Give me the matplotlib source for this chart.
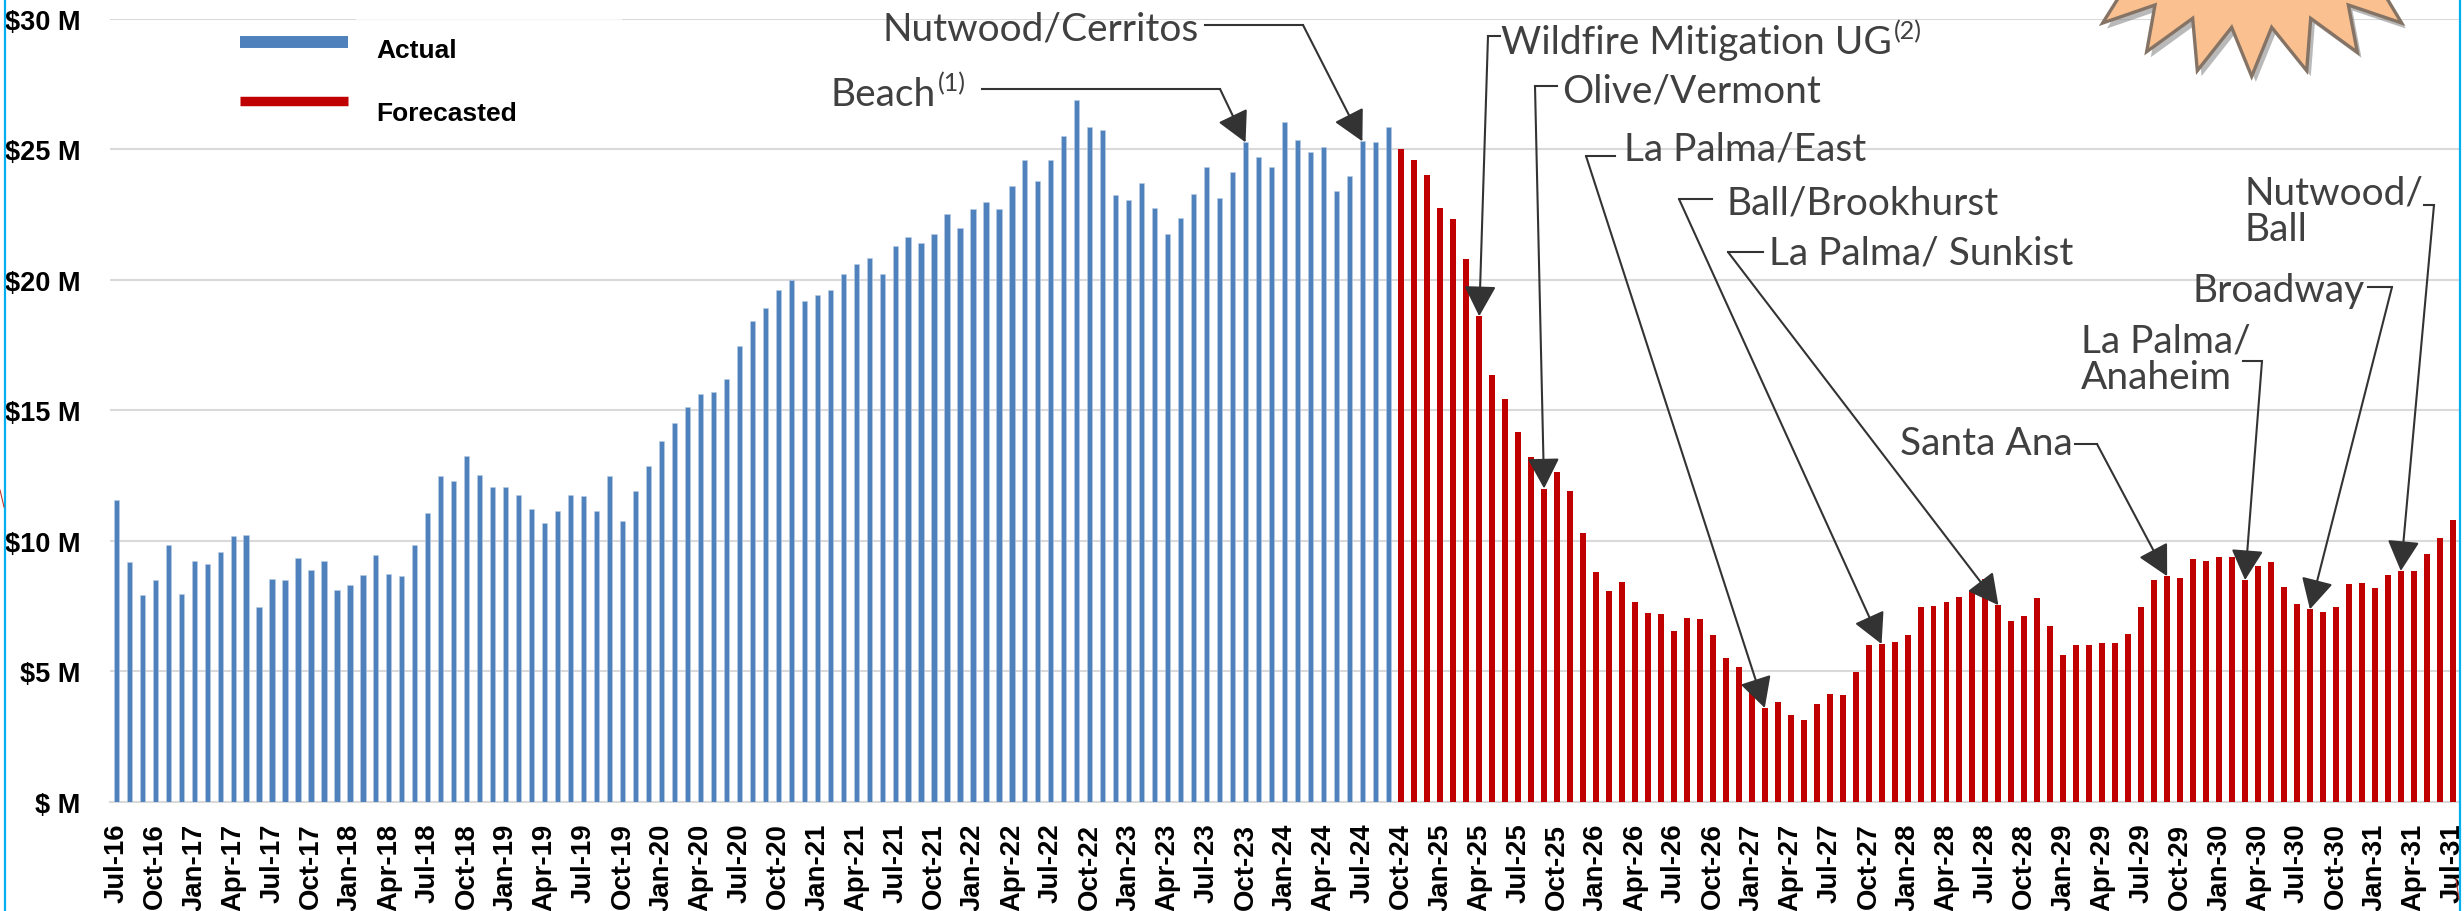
import matplotlib
matplotlib.use("Agg")
import matplotlib.pyplot as plt
import matplotlib.patheffects as pe
from matplotlib.legend_handler import HandlerLine2D
from matplotlib.lines import Line2D
from matplotlib.patches import Polygon, Rectangle
import pandas as pd

months = list(pd.date_range("2016-07-01", "2031-07-01", freq="MS").strftime("%b-%y"))

actual = [11.56, 9.18, 7.91, 8.49, 9.82, 7.97, 9.24, 9.11, 9.58, 10.18, 10.22, 7.46,
          8.55, 8.49, 9.33, 8.86, 9.22, 8.11, 8.31, 8.69, 9.44, 8.71, 8.64, 9.82,
          11.05, 12.47, 12.27, 13.23, 12.52, 12.07, 12.05, 11.74, 11.22, 10.69, 11.14, 11.76,
          11.71, 11.14, 12.47, 10.76, 11.89, 12.87, 13.83, 14.52, 15.12, 15.63, 15.68, 16.19,
          17.46, 18.42, 18.93, 19.6, 20.0, 19.18, 19.42, 19.62, 20.22, 20.6, 20.82, 20.2,
          21.29, 21.63, 21.42, 21.74, 22.52, 22.0, 22.7, 22.96, 22.7, 23.6, 24.6, 23.8,
          24.57, 25.52, 26.9, 25.84, 25.75, 23.23, 23.07, 23.7, 22.76, 21.74, 22.38, 23.27,
          24.3, 23.12, 24.14, 25.26, 24.72, 24.3, 26.04, 25.37, 24.88, 25.08, 23.39, 23.99,
          25.3, 25.26, 25.84]
forecast = [24.99, 24.6, 24.03, 22.74, 22.32, 20.78, 18.6, 16.35, 15.41,
            14.16, 13.21, 12.0, 12.65, 11.89, 10.29, 8.8, 8.06, 8.42, 7.64, 7.22, 7.19,
            6.53, 7.04, 6.99, 6.39, 5.5, 5.17, 4.23, 3.59, 3.81, 3.32, 3.12, 3.74,
            4.12, 4.08, 4.97, 5.99, 6.04, 6.1, 6.39, 7.46, 7.48, 7.64, 7.84, 8.06,
            8.53, 7.53, 6.93, 7.1, 7.8, 6.73, 5.61, 5.99, 5.99, 6.08, 6.08, 6.41,
            7.46, 8.49, 8.64, 8.57, 9.29, 9.22, 9.38, 9.38, 8.49, 9.02, 9.18, 8.22,
            7.57, 7.37, 7.26, 7.46, 8.33, 8.37, 8.17, 8.69, 8.84, 8.84, 9.49, 10.09,
            10.78]
y_ticks = [0, 5, 10, 15, 20, 25, 30]
y_tick_labels = ["$ M", "$5 M", "$10 M", "$15 M", "$20 M", "$25 M", "$30 M"]

W, H = 2464, 912
BOLD = "Liberation Sans"
CALLOUT = "Lato"
DARK = "#333333"
TXT = "#404040"


def fx(px):
    return px / W


def fy(py):
    return 1 - py / H


fig = plt.figure(figsize=(W / 100, H / 100), dpi=100, facecolor="white")
ax = fig.add_axes([fx(109.8), fy(802.7), (2459.2 - 109.8) / W, (802.7 - 19.7) / H])

x_actual = range(len(actual))
x_forecast = range(len(actual), len(actual) + len(forecast))
ax.bar(x_actual, actual, width=0.40, color="#4F81BD", edgecolor="#B9CDE5", linewidth=0.4, zorder=3)
ax.bar(x_forecast, forecast, width=0.46, color="#C00000", zorder=3)

ax.set_xlim(-0.5, 180.5)
ax.set_ylim(0, 30)
ax.set_yticks(y_ticks, y_tick_labels, family=BOLD, weight="bold", fontsize=19.5, color="black")
ax.set_xticks(range(0, len(months), 3), months[::3], rotation=90, family=BOLD, weight="bold",
              fontsize=19.8, color="black")
ax.tick_params(axis="y", length=0, pad=21)
ax.tick_params(axis="x", length=0, pad=15)
ax.grid(axis="y", color="#D9D9D9", linewidth=1.5, zorder=0)
ax.set_axisbelow(True)
for s in ("left", "right", "top"):
    ax.spines[s].set_visible(False)
ax.spines["bottom"].set_color("#D9D9D9")
ax.spines["bottom"].set_linewidth(1.5)
ax.patch.set_alpha(0)


class ShiftedLine(HandlerLine2D):
    def __init__(self, shift, **kw):
        super().__init__(marker_pad=0, **kw)
        self.shift = shift

    def create_artists(self, *args, **kw):
        arts = super().create_artists(*args, **kw)
        for a in arts:
            a.set_ydata(a.get_ydata() + self.shift)
        return arts


h_actual = Line2D([], [], color="#4F81BD", lw=8.6, solid_capstyle="butt")
h_fore = Line2D([], [], color="#C00000", lw=6.8, solid_capstyle="butt")
leg = ax.legend([h_actual, h_fore], ["Actual", "Forecasted"], loc="upper left",
                bbox_to_anchor=(fx(240), fy(39)), bbox_transform=fig.transFigure,
                frameon=False, borderpad=0, borderaxespad=0, handlelength=4.1,
                handletextpad=1.08, labelspacing=1.47, numpoints=2,
                prop={"family": BOLD, "weight": "bold", "size": 19},
                handler_map={h_actual: ShiftedLine(4), h_fore: ShiftedLine(7)})
for t in leg.get_texts():
    t.set_color("black")

# faded stretch of the top gridline behind the legend
fig.add_artist(Line2D([fx(357), fx(621)], [fy(19.7)] * 2, color="white", lw=1.6, alpha=0.75, zorder=4))

# (text, superscript, text x, text centre y, line points in px, target month)
callouts = [
    ("Nutwood/Cerritos", None, 883, 30, [(1205, 26), (1303, 26)], "Jul-24"),
    ("Beach", "(1)", 831, 95, [(982, 90), (1220, 90)], "Oct-23"),
    ("Wildfire Mitigation UG", "(2)", 1501, 43, [(1500, 37), (1488, 37)], "Apr-25"),
    ("Olive/Vermont", None, 1562, 92, [(1557, 87), (1535, 87)], "Sep-25"),
    ("La Palma/East", None, 1624, 150, [(1615, 157), (1586, 157)], "Feb-27"),
    ("Ball/Brookhurst", None, 1726, 203, [(1712, 200), (1679, 200)], "Nov-27"),
    ("La Palma/ Sunkist", None, 1769, 254, [(1763, 253), (1728, 253)], "Aug-28"),
    ("Santa Ana", None, 1900, 444, [(2075, 445), (2097, 445)], "Sep-29"),
    ("La Palma/\nAnaheim", None, 2081, 360, [(2243, 362), (2262, 362)], "Mar-30"),
    ("Broadway", None, 2192, 291, [(2368, 288), (2392, 288)], "Aug-30"),
    ("Nutwood/\nBall", None, 2244, 212, [(2424, 206), (2434, 206)], "Mar-31"),
]
values = actual + forecast
for label, sup, tx, ty, pts, target in callouts:
    t = fig.text(fx(tx), fy(ty), label, family=CALLOUT, fontsize=28, color=TXT, ha="left", va="center",
                 linespacing=1.0, zorder=6)
    if sup:
        fig.canvas.draw()
        bb = t.get_window_extent()
        fig.text((bb.x1 + 2) / W, fy(ty - 11), sup, family=CALLOUT, fontsize=18, color=TXT, ha="left",
                 va="center", zorder=6)
    fig.add_artist(Line2D([fx(p[0]) for p in pts], [fy(p[1]) for p in pts], color=DARK, lw=1.5, zorder=6))
    i = months.index(target)
    ax.annotate("", xy=(i, values[i]), xycoords="data",
                xytext=(pts[-1][0], H - pts[-1][1]), textcoords="figure pixels",
                arrowprops=dict(arrowstyle="-|>,head_length=1.9,head_width=1.0", mutation_scale=10,
                                color=DARK, lw=1.5, shrinkA=0, shrinkB=0), zorder=7)

# decorative starburst cropped by the top edge
burst = [(115, -3), (68, 72), (225, 18), (200, 158), (338, 58), (352, 215), (455, 85), (515, 232),
         (575, 85), (680, 215), (692, 58), (832, 160), (805, 18), (965, 72), (920, -3)]
poly = Polygon([(fx(2080 + a / 3), fy(b / 3)) for a, b in burst], closed=True, transform=fig.transFigure,
               facecolor="#FAC090", edgecolor="#857465", linewidth=2.4, joinstyle="miter", zorder=5,
               path_effects=[pe.SimplePatchShadow(offset=(3, -4), shadow_rgbFace="#808080", alpha=0.55),
                             pe.Normal()])
fig.add_artist(poly)

# page edges: white margin past the right rule, cyan rules, stray connector fragments
fig.add_artist(Rectangle((fx(2460), 0), 5 / W, 1, transform=fig.transFigure, facecolor="white",
                         edgecolor="none", zorder=8))
for xp in (5, 2460):
    fig.add_artist(Line2D([fx(xp)] * 2, [0, 1], color="#00B0F0", lw=1.6, zorder=9))
fig.add_artist(Line2D([fx(0), fx(4)], [fy(491), fy(508)], color="#C0392B", lw=0.8, zorder=9))
fig.add_artist(Line2D([fx(2459), fx(2456)], [fy(900), fy(880)], color="#C0392B", lw=0.8, zorder=9))

fig.savefig("out.png", dpi=100, facecolor="white")
